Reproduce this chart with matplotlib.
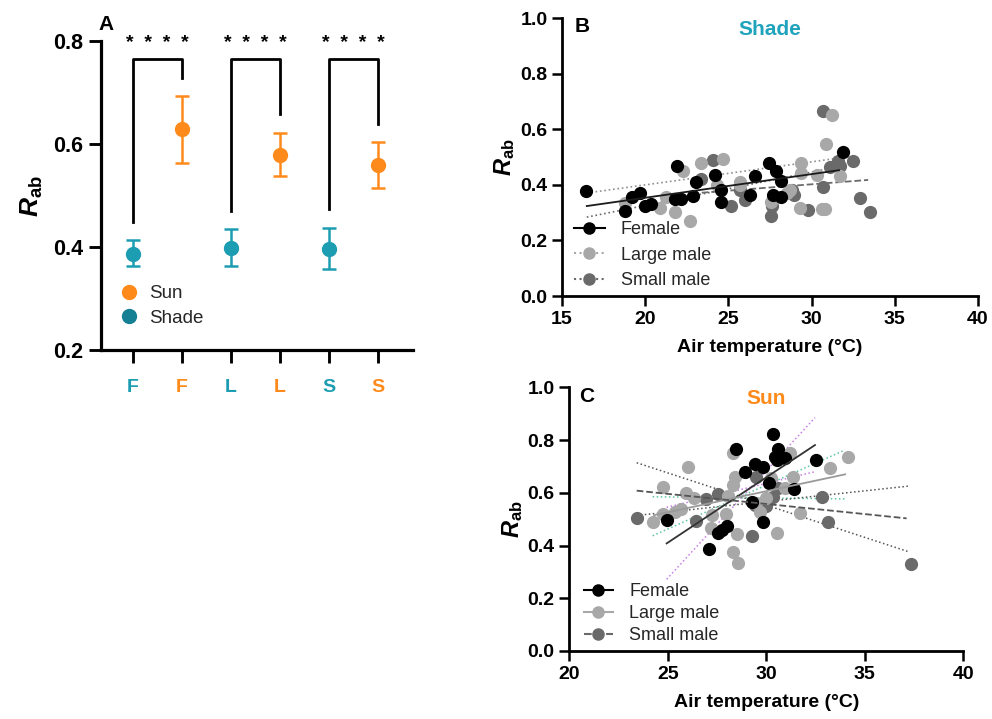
import numpy as np
from matplotlib import pyplot as plt
from matplotlib.lines import Line2D

plt.rcParams['font.family'] = ['Liberation Sans', 'DejaVu Sans']
plt.rcParams['mathtext.fontset'] = 'custom'
plt.rcParams['mathtext.rm'] = 'Liberation Sans'
plt.rcParams['mathtext.it'] = 'Liberation Sans:italic'
plt.rcParams['mathtext.bf'] = 'Liberation Sans:bold'
plt.rcParams['mathtext.bfit'] = 'Liberation Sans:bold:italic'

SUN = '#ff8a1c'
SHADE = '#1c9db2'
FEMALE = '#000000'
LARGE = '#a8a8a8'
SMALL = '#6a6a6a'

# ---- panel A: mean and error per group
a_labels = ['F', 'F', 'L', 'L', 'S', 'S']
a_light = ['Shade', 'Sun', 'Shade', 'Sun', 'Shade', 'Sun']
a_mean = [0.386, 0.630, 0.399, 0.579, 0.397, 0.559]
a_low = [0.363, 0.564, 0.364, 0.538, 0.358, 0.515]
a_high = [0.414, 0.694, 0.435, 0.621, 0.436, 0.603]
# bracket legs: (shade leg bottom, sun leg bottom)
a_bracket_top = 0.765
a_bracket_legs = [(0.449, 0.729), (0.470, 0.658), (0.474, 0.639)]

# ---- panel B: shade
b_female_x = [16.45, 18.80, 19.20, 19.66, 19.96, 20.34, 21.91, 21.77, 22.17, 22.87, 23.07,
              24.22, 24.58, 24.58, 26.27, 26.59, 27.47, 27.89, 27.67, 28.19, 28.19, 31.91]
b_female_y = [0.378, 0.307, 0.358, 0.372, 0.324, 0.331, 0.470, 0.350, 0.350, 0.361, 0.412,
              0.436, 0.382, 0.340, 0.364, 0.432, 0.478, 0.450, 0.364, 0.358, 0.414, 0.520]
b_large_x = [18.80, 20.90, 21.77, 21.27, 22.27, 22.67, 23.37, 24.68, 24.30, 25.72, 27.57,
             28.73, 29.34, 29.34, 29.30, 30.30, 30.62, 30.80, 30.88, 31.20, 31.71, 25.70, 28.50]
b_large_y = [0.336, 0.316, 0.304, 0.358, 0.450, 0.270, 0.478, 0.494, 0.400, 0.412, 0.340,
             0.382, 0.478, 0.442, 0.318, 0.436, 0.312, 0.312, 0.547, 0.653, 0.432, 0.400, 0.370]
b_small_x = [23.37, 24.08, 25.18, 25.72, 25.98, 27.57, 27.60, 28.94, 28.80, 29.78, 30.68,
             30.68, 31.10, 31.61, 31.71, 32.49, 32.89, 33.51]
b_small_y = [0.421, 0.490, 0.325, 0.382, 0.346, 0.288, 0.325, 0.364, 0.380, 0.310, 0.392,
             0.667, 0.466, 0.486, 0.467, 0.486, 0.352, 0.302]
# fitted lines (end points)
b_female_fit = ([16.49, 31.65], [0.324, 0.453])
b_large_fit = ([16.49, 31.65], [0.371, 0.497])
b_small_fit = ([16.49, 31.65], [0.284, 0.466])
b_small_dash = ([23.40, 33.40], [0.372, 0.418])

# ---- panel C: sun
c_female_x = [24.94, 27.11, 27.53, 27.73, 28.02, 28.44, 28.92, 29.42, 29.85, 29.26, 29.85,
              30.12, 30.32, 30.44, 30.61, 30.56, 30.95, 31.40, 32.52]
c_female_y = [0.497, 0.386, 0.446, 0.459, 0.474, 0.765, 0.678, 0.709, 0.699, 0.564, 0.488,
              0.636, 0.823, 0.737, 0.766, 0.724, 0.731, 0.614, 0.724]
c_large_x = [24.23, 24.74, 24.74, 25.36, 25.67, 26.04, 25.92, 26.35, 27.22, 27.19, 27.94,
             28.04, 28.32, 28.32, 28.41, 28.32, 28.53, 28.54, 29.68, 30.24, 30.52, 30.95,
             31.20, 31.34, 31.71, 33.23, 34.13, 29.98, 29.50]
c_large_y = [0.488, 0.623, 0.520, 0.528, 0.537, 0.697, 0.598, 0.582, 0.516, 0.465, 0.520,
             0.589, 0.750, 0.630, 0.661, 0.377, 0.444, 0.332, 0.528, 0.655, 0.446, 0.617,
             0.750, 0.661, 0.522, 0.693, 0.737, 0.579, 0.560]
c_small_x = [23.42, 26.43, 26.94, 27.53, 29.46, 29.26, 29.42, 29.98, 30.36, 30.58, 32.84,
             33.15, 37.34]
c_small_y = [0.506, 0.494, 0.576, 0.595, 0.659, 0.437, 0.554, 0.551, 0.585, 0.617, 0.585,
             0.488, 0.330]
c_female_fit = ([24.94, 32.47], [0.408, 0.781])
c_female_band = [([24.94, 32.47], [0.272, 0.885]), ([24.94, 32.47], [0.545, 0.680])]
c_large_fit = ([24.30, 34.00], [0.515, 0.670])
c_large_band = [([24.23, 33.99], [0.437, 0.762]), ([24.23, 33.99], [0.585, 0.577])]
c_small_fit = ([23.42, 37.12], [0.608, 0.503])
c_small_band = [([23.42, 37.20], [0.714, 0.377]), ([23.42, 37.30], [0.514, 0.626])]

fig = plt.figure(figsize=(9.92, 7.19), dpi=100)


def style_axis(ax, lw, ticklen, size):
    for s in ['top', 'right']:
        ax.spines[s].set_visible(False)
    for s in ['left', 'bottom']:
        ax.spines[s].set_linewidth(lw)
    ax.tick_params(width=lw * 0.9, length=ticklen, labelsize=size)
    for t in ax.get_xticklabels() + ax.get_yticklabels():
        t.set_fontweight('bold')


# ---------- A
axA = fig.add_axes([0.1018, 0.5132, 0.3145, 0.4298])
xs = np.arange(len(a_mean))
for i in xs:
    col = SUN if a_light[i] == 'Sun' else SHADE
    axA.errorbar(i, a_mean[i], yerr=[[a_mean[i] - a_low[i]], [a_high[i] - a_mean[i]]],
                 fmt='o', color=col, ms=10, capsize=5, elinewidth=1.8, capthick=1.8)
for k, (l1, l2) in enumerate(a_bracket_legs):
    x1, x2 = 2 * k, 2 * k + 1
    axA.plot([x1, x1, x2, x2], [l1, a_bracket_top, a_bracket_top, l2], color='black', lw=2)
    axA.text((x1 + x2) / 2, 0.795, '*  *  *  *', ha='center', va='center', fontsize=14,
             fontweight='bold', clip_on=False)
axA.set_ylim(0.2, 0.8)
axA.set_xlim(-0.65, 5.71)
axA.set_yticks([0.2, 0.4, 0.6, 0.8])
axA.set_xticks(xs)
axA.set_xticklabels(a_labels)
style_axis(axA, 2.3, 9, 15.5)
axA.tick_params(axis='x', pad=12)
for t, light in zip(axA.get_xticklabels(), a_light):
    t.set_color(SUN if light == 'Sun' else SHADE)
    t.set_fontsize(14)
axA.set_ylabel(r'$\mathbfit{R}_{\mathbf{ab}}$', fontsize=19, labelpad=6)
axA.legend(handles=[Line2D([], [], ls='', marker='o', ms=10, color=SUN, label='Sun'),
                    Line2D([], [], ls='', marker='o', ms=10, color='#157f93', label='Shade')],
           loc='upper left', bbox_to_anchor=(120 / 992, 1 - 285 / 719),
           bbox_transform=fig.transFigure, frameon=False, fontsize=13.5, handlelength=1.0,
           handletextpad=0.55, labelspacing=0.4, borderpad=0, borderaxespad=0,
           labelcolor='#262626')
fig.text(106 / 992, 1 - 24 / 719, 'A', fontsize=15, fontweight='bold', ha='center', va='center')


def scatter_panel(ax, sets):
    for x, y, col in sets:
        ax.plot(x, y, 'o', color=col, ms=8.5, ls='')


# ---------- B
axB = fig.add_axes([0.5665, 0.5883, 0.4194, 0.3862])
axB.plot(*b_large_fit, ls=':', color='#909090', lw=1.2)
axB.plot(*b_small_fit, ls=':', color=SMALL, lw=1.2)
axB.plot(*b_small_dash, ls='--', color=SMALL, lw=1.3)
scatter_panel(axB, [(b_small_x, b_small_y, SMALL), (b_large_x, b_large_y, LARGE),
                    (b_female_x, b_female_y, FEMALE)])
axB.plot(*b_female_fit, ls='-', color='#1a1a1a', lw=1.3)
axB.set_xlim(15, 40)
axB.set_ylim(0, 1.0)
axB.set_xticks([15, 20, 25, 30, 35, 40])
axB.set_yticks([0.0, 0.2, 0.4, 0.6, 0.8, 1.0])
axB.set_yticklabels(['0.0', '0.2', '0.4', '0.6', '0.8', '1.0'])
style_axis(axB, 2.0, 7, 14)
axB.set_xlabel('Air temperature (°C)', fontsize=14, fontweight='bold', labelpad=8)
axB.set_ylabel(r'$\mathbfit{R}_{\mathbf{ab}}$', fontsize=17, labelpad=2)
axB.text(0.5, 0.995, 'Shade', transform=axB.transAxes, ha='center', va='top', fontsize=15,
         fontweight='bold', color='#20a3bc')
fig.text(582 / 992, 1 - 27 / 719, 'B', fontsize=15, fontweight='bold', ha='center', va='center')
axB.legend(handles=[Line2D([], [], ls='-', marker='o', ms=8, color=FEMALE, label='Female'),
                    Line2D([], [], ls=':', marker='o', ms=8, color=LARGE, label='Large male'),
                    Line2D([], [], ls=':', marker='o', ms=8, color=SMALL, label='Small male')],
           loc='upper left', bbox_to_anchor=(574 / 992, 1 - 221 / 719),
           bbox_transform=fig.transFigure, frameon=False, fontsize=13, handlelength=1.7,
           handletextpad=0.9, labelspacing=0.48, borderpad=0, borderaxespad=0,
           labelcolor='#262626')

# ---------- C
axC = fig.add_axes([0.5739, 0.0946, 0.3972, 0.3667])
for bx, by in c_female_band:
    axC.plot(bx, by, ls=':', color='#c77ee8', lw=1.1)
for bx, by in c_large_band:
    axC.plot(bx, by, ls=':', color='#5fc4a6', lw=1.1)
for bx, by in c_small_band:
    axC.plot(bx, by, ls=':', color='#555555', lw=1.1)
scatter_panel(axC, [(c_small_x, c_small_y, SMALL), (c_large_x, c_large_y, LARGE),
                    (c_female_x, c_female_y, FEMALE)])
axC.plot(*c_female_fit, ls='-', color='#333333', lw=1.3)
axC.plot(*c_large_fit, ls='-', color='#9a9a9a', lw=1.3)
axC.plot(*c_small_fit, ls='--', color='#555555', lw=1.3)
axC.set_xlim(20, 40)
axC.set_ylim(0, 1.0)
axC.set_xticks([20, 25, 30, 35, 40])
axC.set_yticks([0.0, 0.2, 0.4, 0.6, 0.8, 1.0])
axC.set_yticklabels(['0.0', '0.2', '0.4', '0.6', '0.8', '1.0'])
style_axis(axC, 2.0, 7, 14)
axC.set_xlabel('Air temperature (°C)', fontsize=14, fontweight='bold', labelpad=8)
axC.set_ylabel(r'$\mathbfit{R}_{\mathbf{ab}}$', fontsize=17, labelpad=2)
axC.text(0.5, 0.995, 'Sun', transform=axC.transAxes, ha='center', va='top', fontsize=15,
         fontweight='bold', color='#ff8a1c')
fig.text(587 / 992, 1 - 396 / 719, 'C', fontsize=15, fontweight='bold', ha='center', va='center')
axC.legend(handles=[Line2D([], [], ls='-', marker='o', ms=8, color=FEMALE, label='Female'),
                    Line2D([], [], ls='-', marker='o', ms=8, color=LARGE, label='Large male'),
                    Line2D([], [], ls='--', marker='o', ms=8, color=SMALL, label='Small male')],
           loc='upper left', bbox_to_anchor=(584 / 992, 1 - 583 / 719),
           bbox_transform=fig.transFigure, frameon=False, fontsize=13, handlelength=1.6,
           handletextpad=0.9, labelspacing=0.28, borderpad=0, borderaxespad=0,
           labelcolor='#262626')

plt.savefig('out.png', dpi=100)
